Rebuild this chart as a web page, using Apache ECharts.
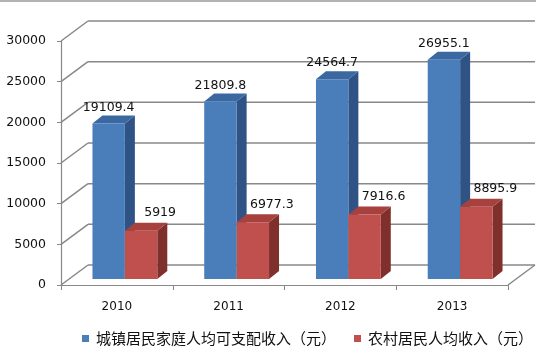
<!DOCTYPE html>
<html>
<head>
<meta charset="utf-8">
<script src="https://cdn.jsdelivr.net/npm/echarts@6/dist/echarts.min.js"></script>
<style>html,body{margin:0;padding:0;background:#fff;}#c{width:536px;height:355px;}</style>
</head>
<body>
<div id="c"></div>
<script>
var categories = ['2010', '2011', '2012', '2013'];
var urbanName = '城镇居民家庭人均可支配收入（元）';
var ruralName = '农村居民人均收入（元）';
var urbanValues = [19109.4, 21809.8, 24564.7, 26955.1];
var ruralValues = [5919, 6977.3, 7916.6, 8895.9];
var yTicks = [0, 5000, 10000, 15000, 20000, 25000, 30000];

var DEPTH = [27, -20];      // back wall offset
var PLANE = [8, -6];        // bar front plane offset
var BARD = [10, -8];        // bar depth
var BAR_FRAC = 0.29;

var palette = {
  urban: { front: '#4a7ebb', top: '#3c68a1', side: '#2f5384' },
  rural: { front: '#c0504d', top: '#a6413e', side: '#7f302d' }
};

function barRender(kind, values) {
  return function (params, api) {
    var idx = api.value(0);
    var val = api.value(1);
    var p = api.coord([idx, val]);
    var b = api.coord([idx, 0]);
    var band = api.size([1, 0])[0];
    var w = band * BAR_FRAC;
    var cx = p[0] + PLANE[0];
    var x0 = kind === 'urban' ? cx - w : cx;
    var x1 = kind === 'urban' ? cx : cx + w;
    var yt = p[1] + PLANE[1];
    var yb = b[1] + PLANE[1];
    var c = palette[kind];
    var dx = BARD[0], dy = BARD[1];
    var children = [
      { type: 'polygon', shape: { points: [[x1, yt], [x1 + dx, yt + dy], [x1 + dx, yb + dy], [x1, yb]] }, style: { fill: c.side } },
      { type: 'polygon', shape: { points: [[x0, yt], [x0 + dx, yt + dy], [x1 + dx, yt + dy], [x1, yt]] }, style: { fill: c.top } },
      { type: 'rect', shape: { x: x0, y: yt, width: x1 - x0, height: yb - yt }, style: { fill: c.front } }
    ];
    var lx = (x0 + x1) / 2 + (kind === 'urban' ? 0 : 19);
    var ly = yt + (kind === 'urban' ? -16 : -18);
    children.push({
      type: 'text',
      style: {
        x: lx, y: ly, text: String(values[params.dataIndex]),
        textAlign: 'center', textVerticalAlign: 'middle',
        font: '12.5px "DejaVu Sans"', fill: '#111'
      },
      z2: 10
    });
    return { type: 'group', children: children };
  };
}

var chart = echarts.init(document.getElementById('c'));
chart.setOption({
  animation: false,
  backgroundColor: '#fff',
  graphic: [
    { type: 'line', shape: { x1: 0, y1: 1, x2: 536, y2: 1 }, style: { stroke: '#999', lineWidth: 1.5 } }
  ],
  legend: {
    data: [urbanName, ruralName],
    left: 82, top: 331, padding: 0,
    itemWidth: 7, itemHeight: 7, itemGap: 18,
    icon: 'rect',
    textStyle: { fontFamily: 'Noto Sans CJK SC', fontSize: 15, color: '#111', padding: [0, 0, 0, 2] }
  },
  grid: [
    { left: 61, right: 28, top: 41, bottom: 70 }
  ],
  xAxis: [
    {
      type: 'category', data: categories,
      axisLine: { lineStyle: { color: '#888', width: 1.2 } },
      axisTick: { show: true, length: 5, lineStyle: { color: '#888' } },
      axisLabel: { margin: 16, fontFamily: 'DejaVu Sans', fontSize: 12, color: '#111' }
    }
  ],
  yAxis: [
    {
      type: 'value', min: 0, max: 30000, interval: 5000,
      axisLine: { show: true, lineStyle: { color: '#888', width: 1.2 } },
      axisTick: { show: true, length: 4, lineStyle: { color: '#888' } },
      splitLine: { show: false },
      axisLabel: { margin: 15, fontFamily: 'DejaVu Sans', fontSize: 12.5, color: '#111',
        formatter: function (v) { return String(v); } }
    }
  ],
  series: [
    {
      name: 'wall', type: 'custom', silent: true,
      data: yTicks.map(function (v) { return [0, v]; }),
      renderItem: function (params, api) {
        var v = api.value(1);
        var p = api.coord([0, v]);
        var band = api.size([1, 0])[0];
        var x = p[0] - band / 2;
        var q = api.coord([categories.length - 1, 0]);
        var xr = q[0] + band / 2;
        var st = { stroke: '#888', lineWidth: 1.5 };
        var ch = [
          { type: 'line', shape: { x1: x, y1: p[1], x2: x + DEPTH[0], y2: p[1] + DEPTH[1] }, style: st },
          { type: 'line', shape: { x1: x + DEPTH[0], y1: p[1] + DEPTH[1], x2: xr + DEPTH[0], y2: p[1] + DEPTH[1] }, style: st }
        ];
        if (v === 0) {
          ch.push({ type: 'line', shape: { x1: xr, y1: q[1], x2: xr + DEPTH[0], y2: q[1] + DEPTH[1] }, style: st });
        }
        return { type: 'group', children: ch };
      },
      z: 1
    },
    {
      name: urbanName, type: 'custom',
      itemStyle: { color: palette.urban.front },
      data: urbanValues.map(function (v, i) { return [i, v]; }),
      renderItem: barRender('urban', urbanValues), z: 3
    },
    {
      name: ruralName, type: 'custom',
      itemStyle: { color: palette.rural.front },
      data: ruralValues.map(function (v, i) { return [i, v]; }),
      renderItem: barRender('rural', ruralValues), z: 4
    }
  ]
});
</script>
</body>
</html>
